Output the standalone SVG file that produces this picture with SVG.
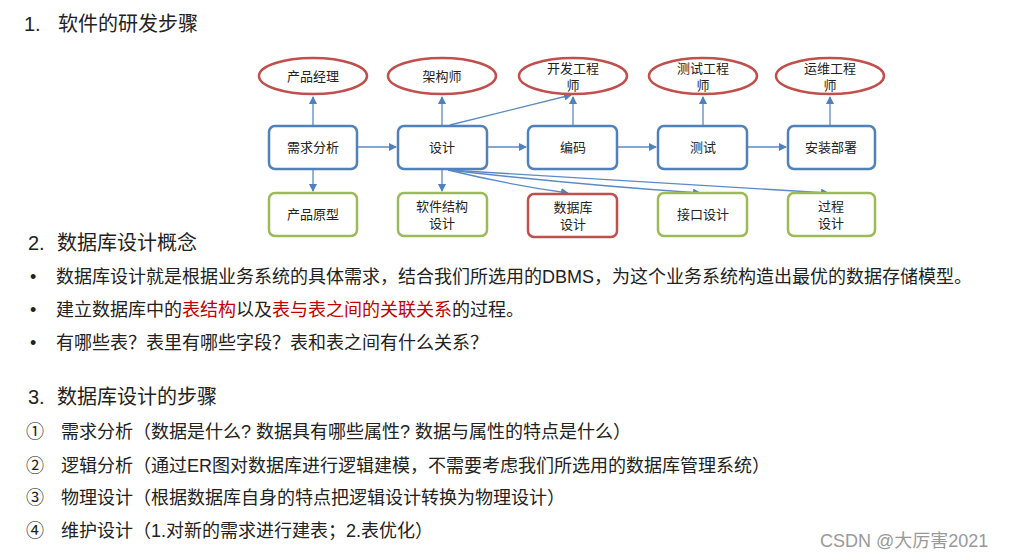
<svg xmlns="http://www.w3.org/2000/svg" width="1017" height="559" viewBox="0 0 1017 559">
<style>
text{font-family:"Liberation Sans","Noto Sans CJK SC",sans-serif;fill:#222}
.h{font-size:20px}
.b{font-size:18px}
.n{font-size:13px;text-anchor:middle}
.box{fill:#fff;stroke:#4f81bd;stroke-width:2.5}
.g{fill:#fff;stroke:#9bbb59;stroke-width:2.5}
.r{fill:#fff;stroke:#c0504d;stroke-width:2.5}
.c path{fill:none;stroke:#5b8ac6;stroke-width:1.3;marker-end:url(#a)}
.red{fill:#c00000}
</style>
<defs><marker id="a" markerWidth="8" markerHeight="8" refX="7" refY="4" orient="auto" markerUnits="userSpaceOnUse"><path d="M0,0 L8,4 L0,8 z" fill="#4f81bd"/></marker></defs>
<rect width="1017" height="559" fill="#fff"/>
<text class="h" x="24" y="31">1.</text><text class="h" x="58" y="31">软件的研发步骤</text>
<g class="c">
<path d="M313,125 V97"/><path d="M442,125 V97"/><path d="M573,125 V97"/><path d="M703,125 V97"/><path d="M830,125 V97"/>
<path d="M357,147 H396"/><path d="M487,147 H526"/><path d="M617,147 H656"/><path d="M747,147 H786"/>
<path d="M450,125 L571,95"/>
<path d="M313,170 V191"/><path d="M442,170 V191"/>
<path d="M448,170 Q510,185 568,193"/>
<path d="M448,170 Q580,185 700,193"/>
<path d="M448,170 Q650,182 828,193"/>
</g>
<g id="e1"><ellipse class="r" cx="313" cy="76" rx="54" ry="18"/><text class="n" x="313" y="81">产品经理</text></g>
<g id="e2"><ellipse class="r" cx="442" cy="76" rx="54" ry="18"/><text class="n" x="442" y="81">架构师</text></g>
<g id="e3"><ellipse class="r" cx="573" cy="76" rx="54" ry="18"/><text class="n" x="573" y="73">开发工程</text><text class="n" x="573" y="90">师</text></g>
<g id="e4"><ellipse class="r" cx="703" cy="76" rx="54" ry="18"/><text class="n" x="703" y="73">测试工程</text><text class="n" x="703" y="90">师</text></g>
<g id="e5"><ellipse class="r" cx="830" cy="76" rx="54" ry="18"/><text class="n" x="830" y="73">运维工程</text><text class="n" x="830" y="90">师</text></g>
<g id="b1"><rect class="box" x="269" y="126" width="88" height="43" rx="6"/><text class="n" x="313" y="152">需求分析</text></g>
<g id="b2"><rect class="box" x="398" y="126" width="89" height="43" rx="6"/><text class="n" x="442" y="152">设计</text></g>
<g id="b3"><rect class="box" x="528" y="126" width="89" height="43" rx="6"/><text class="n" x="573" y="152">编码</text></g>
<g id="b4"><rect class="box" x="658" y="126" width="89" height="43" rx="6"/><text class="n" x="703" y="152">测试</text></g>
<g id="b5"><rect class="box" x="788" y="126" width="87" height="43" rx="6"/><text class="n" x="831" y="152">安装部署</text></g>
<g id="d1"><rect class="g" x="269" y="193" width="88" height="43" rx="6"/><text class="n" x="313" y="219">产品原型</text></g>
<g id="d2"><rect class="g" x="398" y="193" width="89" height="43" rx="6"/><text class="n" x="442" y="211">软件结构</text><text class="n" x="442" y="228">设计</text></g>
<g id="d3"><rect class="r" x="528" y="194" width="89" height="43" rx="6"/><text class="n" x="573" y="212">数据库</text><text class="n" x="573" y="229">设计</text></g>
<g id="d4"><rect class="g" x="658" y="193" width="89" height="43" rx="6"/><text class="n" x="703" y="219">接口设计</text></g>
<g id="d5"><rect class="g" x="788" y="193" width="87" height="43" rx="6"/><text class="n" x="831" y="211">过程</text><text class="n" x="831" y="228">设计</text></g>
<text class="h" x="28" y="250">2.</text><text class="h" x="57" y="250">数据库设计概念</text>
<text class="b" x="30" y="283">•</text><text class="b" x="56" y="283">数据库设计就是根据业务系统的具体需求，结合我们所选用的DBMS，为这个业务系统构造出最优的数据存储模型。</text>
<text class="b" x="30" y="316">•</text><text class="b" x="56" y="316">建立数据库中的<tspan class="red">表结构</tspan>以及<tspan class="red">表与表之间的关联关系</tspan>的过程。</text>
<text class="b" x="30" y="349">•</text><text class="b" x="56" y="349">有哪些表？表里有哪些字段？表和表之间有什么关系？</text>
<text class="h" x="28" y="404">3.</text><text class="h" x="57" y="404">数据库设计的步骤</text>
<text class="b" x="26" y="438">①</text><text class="b" x="61" y="438">需求分析（数据是什么? 数据具有哪些属性? 数据与属性的特点是什么）</text>
<text class="b" x="26" y="472">②</text><text class="b" x="61" y="472">逻辑分析（通过ER图对数据库进行逻辑建模，不需要考虑我们所选用的数据库管理系统）</text>
<text class="b" x="26" y="504">③</text><text class="b" x="61" y="504">物理设计（根据数据库自身的特点把逻辑设计转换为物理设计）</text>
<text class="b" x="26" y="537">④</text><text class="b" x="61" y="537">维护设计（1.对新的需求进行建表；2.表优化）</text>
<text x="820" y="547" style="font-size:18px;fill:#999">CSDN @大厉害2021</text>
</svg>
